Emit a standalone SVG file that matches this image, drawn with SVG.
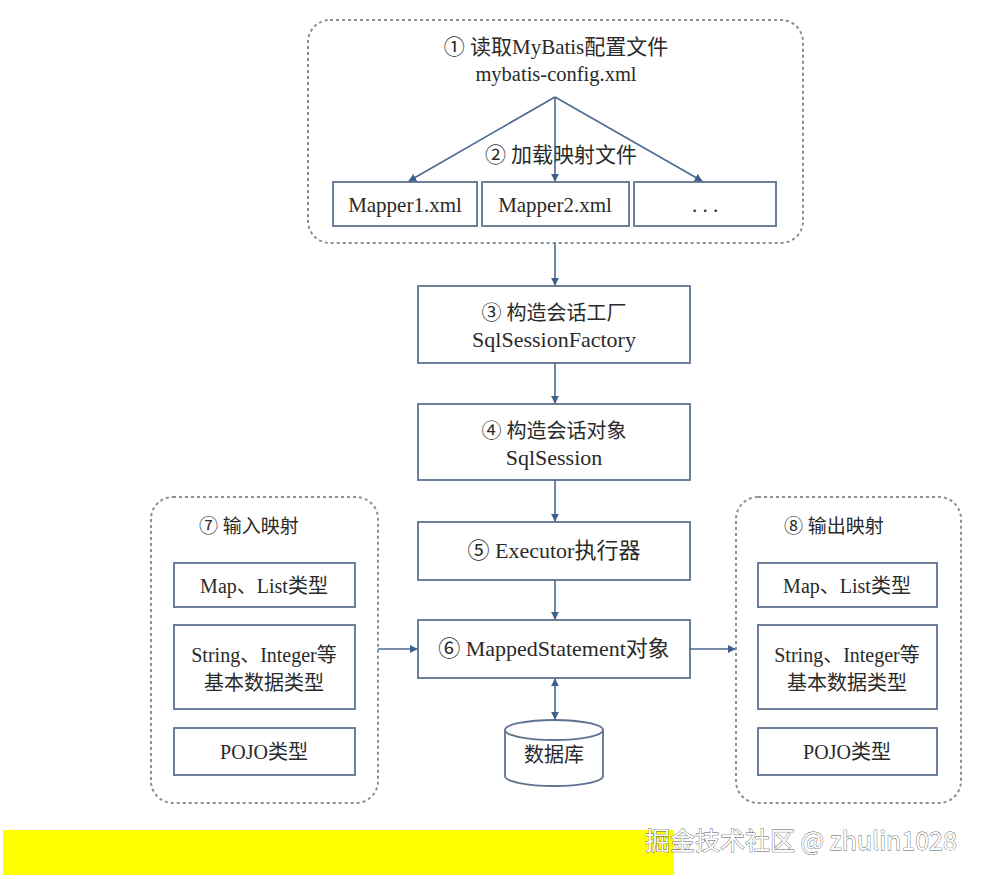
<svg xmlns="http://www.w3.org/2000/svg" width="987" height="879" viewBox="0 0 987 879">
<defs>
<marker id="ah" viewBox="0 0 10 10" refX="9" refY="5" markerWidth="8" markerHeight="8" orient="auto-start-reverse" markerUnits="userSpaceOnUse">
<path d="M0,0 L10,5 L0,10 z" fill="#3f5f8c"/>
</marker>
<style>
.dash{fill:#fff;stroke:#8a8f96;stroke-width:2;stroke-dasharray:3 3}
.box{fill:#fff;stroke:#5f7290;stroke-width:1.8}
.t{font-family:"Liberation Serif","Noto Sans CJK SC",serif;fill:#2a2a2a;text-anchor:middle}
.c{fill:none;stroke:#4b6990;stroke-width:1.6;marker-end:url(#ah)}
.wm{font-family:"Noto Sans CJK SC","Noto Sans",sans-serif;font-size:25px;fill:#fff;stroke:#555;stroke-width:0.8;paint-order:stroke}
</style>
</defs>
<rect width="987" height="879" fill="#fff"/>

<g id="config">
<rect class="dash" x="308" y="20" width="495" height="223" rx="22"/>
<text class="t" x="556" y="54" font-size="21">① 读取MyBatis配置文件</text>
<text class="t" x="556" y="81" font-size="20.5">mybatis-config.xml</text>
<text class="t" x="561" y="162" font-size="21">② 加载映射文件</text>
</g>
<g id="mapper1">
<rect class="box" x="333" y="182" width="144" height="44"/>
<text class="t" x="405" y="212" font-size="21">Mapper1.xml</text>
</g>
<g id="mapper2">
<rect class="box" x="482" y="182" width="147" height="44"/>
<text class="t" x="555" y="212" font-size="21">Mapper2.xml</text>
</g>
<g id="mapper3">
<rect class="box" x="634" y="182" width="142" height="44"/>
<text class="t" x="705" y="212" font-size="21">. . .</text>
</g>

<g id="factory">
<rect class="box" x="418" y="286" width="272" height="77"/>
<text class="t" x="554" y="320" font-size="20">③ 构造会话工厂</text>
<text class="t" x="554" y="347" font-size="22">SqlSessionFactory</text>
</g>
<g id="session">
<rect class="box" x="418" y="404" width="272" height="76"/>
<text class="t" x="554" y="438" font-size="20">④ 构造会话对象</text>
<text class="t" x="554" y="465" font-size="22">SqlSession</text>
</g>
<g id="executor">
<rect class="box" x="418" y="522" width="272" height="58"/>
<text class="t" x="554" y="558" font-size="22">⑤ Executor执行器</text>
</g>
<g id="mapped">
<rect class="box" x="418" y="620" width="272" height="58"/>
<text class="t" x="554" y="656" font-size="22">⑥ MappedStatement对象</text>
</g>
<g id="db">
<path d="M505,730 L505,776 A49,10 0 0 0 603,776 L603,730" fill="#fff" stroke="#5f7290" stroke-width="1.8"/>
<ellipse cx="554" cy="730" rx="49" ry="10" fill="#fff" stroke="#5f7290" stroke-width="1.8"/>
<text class="t" x="554" y="762" font-size="20">数据库</text>
</g>

<g id="input">
<rect class="dash" x="151" y="497" width="227" height="306" rx="22"/>
<text class="t" x="249" y="533" font-size="19">⑦ 输入映射</text>
<rect class="box" x="174" y="563" width="181" height="44"/>
<text class="t" x="264" y="593" font-size="20">Map、List类型</text>
<rect class="box" x="174" y="625" width="181" height="84"/>
<text class="t" x="264" y="662" font-size="20">String、Integer等</text>
<text class="t" x="264" y="690" font-size="20">基本数据类型</text>
<rect class="box" x="174" y="728" width="181" height="47"/>
<text class="t" x="264" y="759" font-size="20">POJO类型</text>
</g>
<g id="output">
<rect class="dash" x="736" y="497" width="225" height="306" rx="22"/>
<text class="t" x="834" y="533" font-size="19">⑧ 输出映射</text>
<rect class="box" x="758" y="563" width="179" height="44"/>
<text class="t" x="847" y="593" font-size="20">Map、List类型</text>
<rect class="box" x="758" y="625" width="179" height="84"/>
<text class="t" x="847" y="662" font-size="20">String、Integer等</text>
<text class="t" x="847" y="690" font-size="20">基本数据类型</text>
<rect class="box" x="758" y="728" width="179" height="47"/>
<text class="t" x="847" y="759" font-size="20">POJO类型</text>
</g>

<g id="connectors">
<path class="c" d="M555,97 L409,181"/>
<path class="c" d="M555,97 L555,181"/>
<path class="c" d="M555,97 L702,181"/>
<path class="c" d="M555,243 L555,285"/>
<path class="c" d="M555,363 L555,403"/>
<path class="c" d="M555,480 L555,521"/>
<path class="c" d="M555,580 L555,619"/>
<path class="c" d="M555,679 L555,719" style="marker-start:url(#ah)"/>
<path class="c" d="M378,649 L417,649"/>
<path class="c" d="M690,649 L735,649"/>
</g>

<rect x="3" y="830" width="671" height="45" fill="#ffff00"/>
<text class="wm" x="645" y="850">掘金技术社区 @ zhulin1028</text>
</svg>
